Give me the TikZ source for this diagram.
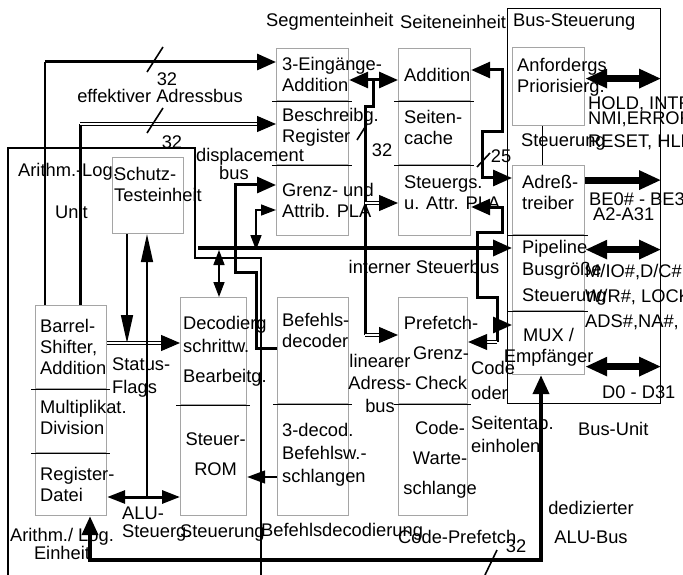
\documentclass[tikz,border=0pt]{standalone}
\usepackage{fontspec}
\setmainfont{Liberation Sans}
\usetikzlibrary{arrows.meta}
\definecolor{boxgray}{RGB}{165,165,165}

\begin{document}
\begin{tikzpicture}[x=1pt, y=-1pt,
          >={Triangle[length=19pt, width=16pt]},
          every node/.style = {inner sep=0pt, font=\fontsize{18.3}{21}\selectfont},
          cell/.style = {draw=boxgray, line width=1.2pt, minimum width=72pt, anchor=north west},
          txt/.style = {anchor=west, align=left},
          ctxt/.style = {align=center},
          region/.style = {draw, line width=1.2pt},
          divider/.style = {line width=1pt},
          thinbus/.style = {line width=1.6pt},
          bus/.style = {line width=3pt},
          dbus/.style = {double, double distance=1.4pt, line width=1.2pt},
          ext/.style = {line width=7pt, >={Triangle[length=22pt, width=18pt]}},
          hdthin/.style = {>={Triangle[length=15pt, width=11pt]}},
          hdlong/.style = {>={Triangle[length=28pt, width=12pt]}},
          hdmid/.style = {>={Triangle[length=18pt, width=13pt]}}]
        \useasboundingbox[fill=white] (0,0) rectangle (683,575);
        \draw[region] (8,575) |- (195,148) -- (195,258) -| (261,575);
        \node[region, minimum width=153pt, minimum height=395pt, anchor=north west] (busu) at (507,8) {};
        % boxes
        \node[cell, minimum height=52pt] (seg1) at (276,48) {};
        \node[cell, minimum height=64pt] (seg2) at (276,100) {};
        \node[cell, minimum height=71pt] (seg3) at (276,164) {};
        \node[cell, minimum height=52pt] (pg1) at (398,48) {};
        \node[cell, minimum height=64pt] (pg2) at (398,100) {};
        \node[cell, minimum height=71pt] (pg3) at (398,164) {};
        \node[cell, minimum height=78pt] (bus1) at (512,47) {};
        \node[cell, minimum height=69pt] (bus2) at (512,165) {};
        \node[cell, minimum height=76pt] (bus3) at (512,234) {};
        \node[cell, minimum height=64pt] (bus4) at (512,310) {};
        \node[cell, minimum width=71pt, minimum height=76pt] (sch) at (112,157) {};
        \node[cell, minimum width=71pt, minimum height=83pt] (alu1) at (35,305) {};
        \node[cell, minimum width=71pt, minimum height=64pt] (alu2) at (35,388) {};
        \node[cell, minimum width=71pt, minimum height=63pt] (alu3) at (35,452) {};
        \node[cell, minimum width=66pt, minimum height=107pt] (dec1) at (180,297) {};
        \node[cell, minimum width=66pt, minimum height=111pt] (dec2) at (180,404) {};
        \node[cell, minimum width=71pt, minimum height=106pt] (bd1) at (277,297) {};
        \node[cell, minimum width=71pt, minimum height=112pt] (bd2) at (277,403) {};
        \node[cell, minimum width=69pt, minimum height=106pt] (pf1) at (398,297) {};
        \node[cell, minimum width=69pt, minimum height=112pt] (pf2) at (398,403) {};
        \foreach \n in {seg1, seg2, pg1, pg2, bus2, bus3, alu1, alu2, dec1, bd1, pf1}
                 {
                   \draw[divider] ([xshift=-4pt]\n.south west) -- ([xshift=3pt]\n.south east);
                 }
        % box texts
        \node[txt] (seg1t) at ([xshift=6pt]seg1.west) {3-Eingänge-\\Addition};
        \node[txt] (seg2t) at ([xshift=6pt, yshift=5pt]seg2.west) {Beschreibg.\\Register};
        \node[txt] (seg3t) at ([xshift=6pt]seg3.west) {Grenz- und\\Attrib. PLA};
        \node[txt] (pg1t) at ([xshift=6pt]pg1.west) {Addition};
        \node[txt] (pg2t) at ([xshift=6pt, yshift=5pt]pg2.west) {Seiten-\\cache};
        \node[txt] (pg3t) at ([xshift=6pt, yshift=7pt]pg3.west) {Steuergs.\\u. Attr. PLA};
        \node[txt] (bus1t) at ([xshift=5pt, yshift=9pt]bus1.west) {Anfordergs\\Priorisierg.};
        \node[txt] (bus2t) at ([xshift=10pt, yshift=8pt]bus2.west) {Adreß-\\treiber};
        \node[txt] (bus3t) at ([xshift=10pt]bus3.west) {Pipeline\\[1pt]Busgröße\\[5pt]Steuerung};
        \node[ctxt] (bus4t) at ([yshift=-5pt]bus4.center) {MUX /\\Empfänger};
        \node[txt] (scht) at ([xshift=2pt, yshift=11pt]sch.west) {Schutz-\\Testeinheit};
        \node[txt] (alu1t) at ([xshift=5pt]alu1.west) {Barrel-\\Shifter,\\Addition};
        \node[txt] (alu2t) at ([xshift=5pt, yshift=3pt]alu2.west) {Multiplikat.\\Division};
        \node[txt] (alu3t) at ([xshift=5pt]alu3.west) {Register-\\Datei};
        \node[txt] (dec1t) at ([xshift=3pt]dec1.west) {Decodierg\\[2pt]schrittw.\\[9pt]Bearbeitg.};
        \node[ctxt] (dec2t) at ([xshift=2pt, yshift=6pt]dec2.center) {Steuer-\\[9pt]ROM};
        \node[txt] (bd1t) at ([xshift=5pt, yshift=20pt]bd1.west) {Befehls-\\decoder};
        \node[txt] (bd2t) at ([xshift=5pt, yshift=5pt]bd2.west) {3-decod.\\[2pt]Befehlsw.-\\[2pt]schlangen};
        \node[ctxt] (pf1t) at ([xshift=8pt, yshift=-2pt]pf1.center) {Prefetch-\\[9pt]Grenz-\\[9pt]Check};
        \node[ctxt] (pf2t) at ([xshift=7pt]pf2.center) {Code-\\[9pt]Warte-\\[9pt]schlange};
        % labels
        \node[txt] (segT) at (266,22) {Segmenteinheit};
        \node[txt] (pageT) at (400,22) {Seiteneinheit};
        \node[txt] (busT) at (513,22) {Bus-Steuerung};
        \node (n32a) at (167,79) {32};
        \node (effT) at (160,96) {effektiver Adressbus};
        \node (n32b) at (172,142) {32};
        \node (dispT) at (250,157) {displacement};
        \node (dispbusT) at (234,173) {bus};
        \node[txt] (arT) at (18,172) {Arithm.-Log.};
        \node[txt] (unitT) at (55,212) {Unit};
        \node[txt] (flagT) at (112,378) {Status-\\[2pt]Flags};
        \node[txt] (alusT) at (122,524) {ALU-\\[-3pt]Steuerg.};
        \node[ctxt] (arithT) at (62,544) {Arithm./ Log.\\[-3pt]Einheit};
        \node[txt] (steuT) at (180,533) {Steuerung};
        \node[txt] (befT) at (261,532) {Befehlsdecodierung};
        \node[txt] (codepT) at (398,537) {Code-Prefetch};
        \node (n32c) at (516,546) {32};
        \node (intT) at (424,267) {interner Steuerbus};
        \node[ctxt] (linT) at (380,383) {linearer\\[1.5pt]Adress-\\[1.5pt]bus};
        \node (n32d) at (382,150) {32};
        \node (n25) at (501,156) {25};
        \node[txt] (codeT) at (471,380) {Code\\[4pt]oder};
        \node[txt] (seitT) at (471,434) {Seitentab.\\[2pt]einholen};
        \node[txt] (steuBT) at (521,142) {Steuerung};
        \node[txt] (holdT) at (588,123) {HOLD, INTR,\\[-6pt]NMI,ERROR,\\[2pt]RESET, HLDA};
        \node[txt] (beT) at (589,207) {BE0\# - BE3\#\\[-6pt]\hspace{4pt}A2-A31};
        \node[txt] (mioT) at (585,297) {M/IO\#,D/C\#,\\[4pt]W/R\#, LOCK\#\\[4pt]ADS\#,NA\#,};
        \node[txt] (dataT) at (602,392) {D0 - D31};
        \node[txt] (busuT) at (578,429) {Bus-Unit};
        \node[ctxt] (dedT) at (591,522) {dedizierter\\[8pt]ALU-Bus};
        % bends
        \coordinate (eab) at (45,62);
        \coordinate (regb) at (80,124);
        \coordinate (disp1) at (256,348);
        \coordinate (disp2) at (256,272);
        \coordinate (disp3) at (235,272);
        \coordinate (disp4) at (235,185);
        \coordinate (sbl) at (198,248);
        \coordinate (decb) at (219,250);
        \coordinate (atr1) at (256,250);
        \coordinate (atr2) at (256,210);
        \coordinate (flag) at (127,343);
        \coordinate (aluctl) at (147,497);
        \coordinate (rom) at (262,477);
        \coordinate (lin1) at (373,80);
        \coordinate (lin2) at (373,107);
        \coordinate (lin3) at (365,107);
        \coordinate (lin4) at (365,335);
        \coordinate (lin5) at (365,203);
        \coordinate (pag1) at (502,70);
        \coordinate (pag2) at (502,132);
        \coordinate (pag3) at (482,132);
        \coordinate (pag4) at (482,178);
        \coordinate (pfx1) at (497,342);
        \coordinate (pfx2) at (497,297);
        \coordinate (pfx3) at (477,297);
        \coordinate (pfx4) at (477,232);
        \coordinate (pfx5) at (502,232);
        \coordinate (pfx6) at (502,207);
        \coordinate (pfx7) at (497,325);
        \coordinate (alub1) at (90,560);
        \coordinate (alub2) at (541,560);
        % connectors
        \draw[thinbus] (alu1.north -| eab) -- (eab);
        \draw[bus, ->] (eab) -- (seg1.west |- eab);
        \draw[bus] (alu1.north -| regb) -- (regb);
        \draw[dbus, ->] (regb) -- (seg2.west |- regb);
        \draw[bus, ->] (bd1.west |- disp1) -- (disp1) -- (disp2) -- (disp3) -- (disp4) -- (seg3.west |- disp4);
        \draw[bus, line width=3.5pt, ->] (sbl) -- (bus3.west |- sbl);
        \draw[thinbus, hdthin, <->] (decb) -- (dec1.north -| decb);
        \draw[thinbus, hdthin, <->] (atr1) -- (atr2) -- (seg3.west |- atr2);
        \draw[thinbus, hdlong, ->] (sch.south -| flag) -- (flag);
        \draw[dbus, ->] (alu1.east |- flag) -- (dec1.west |- flag);
        \draw[thinbus, hdlong, ->] (aluctl) -- (sch.south -| aluctl);
        \draw[bus, hdmid, <->] (alu3.east |- aluctl) -- (dec2.west |- aluctl);
        \draw[thinbus, hdmid, ->] (bd2.west |- rom) -- (dec2.east |- rom);
        \draw[bus, line width=4pt, <->] (alu3.south -| alub1) -- (alub1) -- (alub2) -- (bus4.south -| alub2);
        \draw[bus, <->] (seg1.east |- lin1) -- (pg1.west |- lin1);
        \draw[bus] (lin1) -- (lin2) -- (lin3) -- (lin4);
        \draw[dbus, ->] (lin4) -- (pf1.west |- lin4);
        \draw[dbus, ->] (lin5) -- (pg3.west |- lin5);
        \draw[bus, <->] (pg1.east |- pag1) -- (pag1) -- (pag2) -- (pag3) -- (pag4) -- (bus2.west |- pag4);
        \draw[bus, ->] (pfx1) -- (pfx2) -- (pfx3) -- (pfx4) -- (pfx5) -- (pfx6) -- (pg3.east |- pfx6);
        \draw[dbus, ->] (pfx1) -- (pf1.east |- pfx1);
        \draw[bus, ->] (pfx7) -- (bus4.west |- pfx7);
        \draw[thinbus] ([xshift=-6pt]bus1.south) -- ([xshift=-6pt]bus2.north);
        \coordinate (ex1) at ([yshift=8pt]bus1.east);
        \coordinate (ex2) at ([yshift=20pt]bus2.east);
        \coordinate (ex3) at ([yshift=23pt]bus3.east);
        \coordinate (ex4) at ([yshift=-24pt]bus4.east);
        \draw[ext, <->] (ex1) -- (ex1 -| busu.east);
        \draw[ext, ->] (ex2) -- (ex2 -| busu.east);
        \draw[ext, <->] (ex3) -- (ex3 -| busu.east);
        \draw[ext, <->] (ex4) -- (ex4 -| busu.east);
        % bus width marks
        \draw[thinbus] (147,72) -- (163,47);
        \draw[thinbus] (147,133) -- (163,108);
        \draw[thinbus] (357,140) -- (367,124);
        \draw[thinbus] (477,167) -- (490,153);
        \draw[thinbus] (485,575) -- (497,550);
\end{tikzpicture}
\end{document}
